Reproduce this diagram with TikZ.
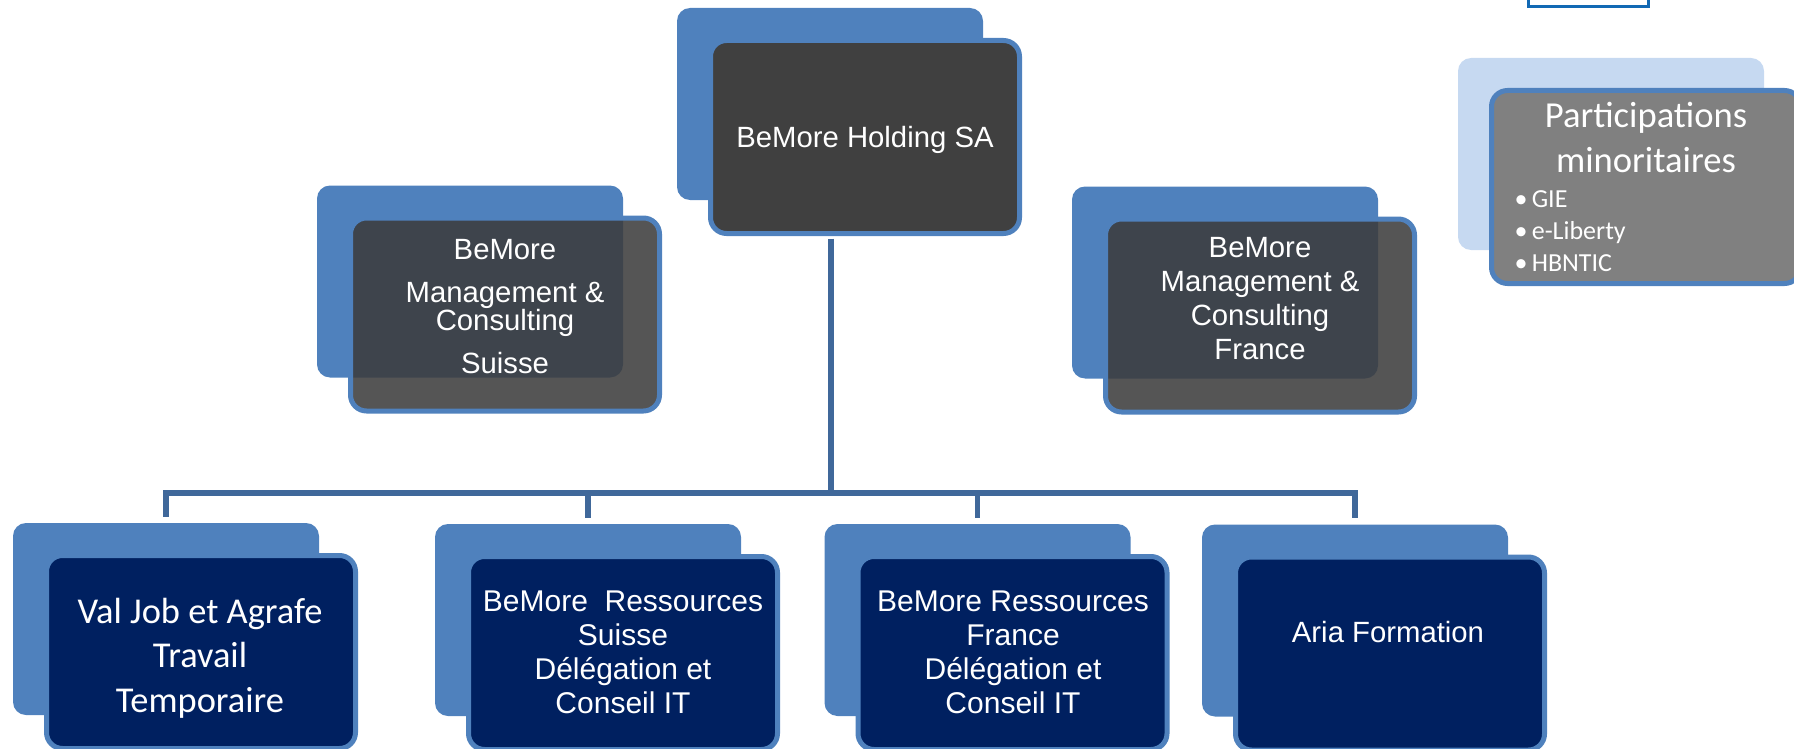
\documentclass[tikz,border=0pt]{standalone}
\usepackage{fontspec}
\setmainfont{Liberation Sans}
\newfontfamily\calibri{Carlito}
\usetikzlibrary{positioning,calc}

\definecolor{bmblue}{RGB}{79,129,189}
\definecolor{bmlight}{RGB}{198,217,241}
\definecolor{bmnavy}{RGB}{0,32,96}
\definecolor{bmdark}{RGB}{64,64,64}
\definecolor{bmgrey}{RGB}{60,60,60}
\definecolor{bmmid}{RGB}{128,128,128}
\definecolor{bmline}{RGB}{64,104,154}
\definecolor{bmframe}{RGB}{18,105,180}

\tikzset{
  backbox/.style={fill=bmblue, rounded corners=13pt, minimum width=306pt, minimum height=192pt, inner sep=0pt},
  frontbox/.style={draw=bmblue, line width=5pt, rounded corners=16pt, minimum width=309pt, minimum height=193pt, inner sep=0pt},
  arialtext/.style={text=white, align=center, anchor=base, font=\fontsize{29.3}{34}\selectfont},
  calibritext/.style={text=white, align=center, anchor=base, font=\calibri\fontsize{36.4}{44.5}\selectfont},
  link/.style={draw=bmline, line width=5.5pt},
}

\begin{document}
\begin{tikzpicture}[x=1pt,y=-1pt]
    \useasboundingbox (0,0) rectangle (1794,749);
    \clip (0,0) rectangle (1794,749);

    % holding
    \node[backbox] (hold-b) at (830,104) {};
    \node[frontbox, fill=bmdark] (hold-f) at ([shift={(35pt,-33pt)}]hold-b.center) {};
    \node[arialtext] (hold-t) at (865,148) {BeMore Holding SA};

    % management & consulting (text placed at last baseline)
    \node[backbox] (mcs-b) at (470,281.5) {};
    \node[frontbox, fill=bmgrey, fill opacity=0.87] (mcs-f) at ([shift={(35pt,-33pt)}]mcs-b.center) {};
    \node[arialtext] (mcs-t) at (505,373) {BeMore\\[9pt]Management \&\\[-6pt]Consulting\\[9pt]Suisse};

    \node[backbox] (mcf-b) at (1225,282.5) {};
    \node[frontbox, fill=bmgrey, fill opacity=0.87] (mcf-f) at ([shift={(35pt,-33pt)}]mcf-b.center) {};
    \node[arialtext] (mcf-t) at (1260,359) {BeMore\\Management \&\\Consulting\\France};

    % participations
    \node[draw=bmframe, line width=3pt, minimum width=120pt, minimum height=40pt] (topbox) at (1588,-13) {};
    \node[backbox, fill=bmlight] (prt-b) at (1611,154) {};
    \node[frontbox, fill=bmmid] (prt-f) at ([shift={(35pt,-33pt)}]prt-b.center) {};
    \node[calibritext, font=\calibri\fontsize{36.6}{45}\selectfont] (prt-t) at (1646,172) {Participations\\minoritaires};
    \node[calibritext, align=left, anchor=base west, font=\calibri\fontsize{26}{32}\selectfont] (prt-l) at (1511,271) {•\,GIE\\•\,e-Liberty\\•\,HBNTIC};

    % subsidiaries
    \node[backbox] (vj-b) at (166,619) {};
    \node[frontbox, fill=bmnavy] (vj-f) at ([shift={(35pt,-33pt)}]vj-b.center) {};
    \node[calibritext] (vj-t) at (200,712) {Val Job et Agrafe\\Travail\\Temporaire};

    \node[backbox] (rss-b) at (588,620) {};
    \node[frontbox, fill=bmnavy] (rss-f) at ([shift={(35pt,-33pt)}]rss-b.center) {};
    \node[arialtext, font=\fontsize{30}{34}\selectfont] (rss-t) at (623,713) {BeMore\ \ Ressources\\Suisse\\Délégation et\\Conseil IT};

    \node[backbox] (rsf-b) at (977.5,620) {};
    \node[frontbox, fill=bmnavy] (rsf-f) at ([shift={(35pt,-33pt)}]rsf-b.center) {};
    \node[arialtext, font=\fontsize{30}{34}\selectfont] (rsf-t) at (1013,713) {BeMore Ressources\\France\\Délégation et\\Conseil IT};

    \node[backbox] (aria-b) at (1355,620.5) {};
    \node[frontbox, fill=bmnavy] (aria-f) at ([shift={(35pt,-33pt)}]aria-b.center) {};
    \node[arialtext] (aria-t) at (1388,642) {Aria Formation};

    % links
    \coordinate (hub) at (831,493);
    \draw[link] ([yshift=-2.5pt]hub |- hold-f.south) -- (hub);
    \draw[link] ([yshift=6pt]vj-b.north) -- (vj-b.north |- hub) -- (aria-b.north |- hub) -- ([yshift=6pt]aria-b.north);
    \draw[link] (rss-b.north |- hub) -- ([yshift=6pt]rss-b.north);
    \draw[link] (rsf-b.north |- hub) -- ([yshift=6pt]rsf-b.north);
\end{tikzpicture}
\end{document}
